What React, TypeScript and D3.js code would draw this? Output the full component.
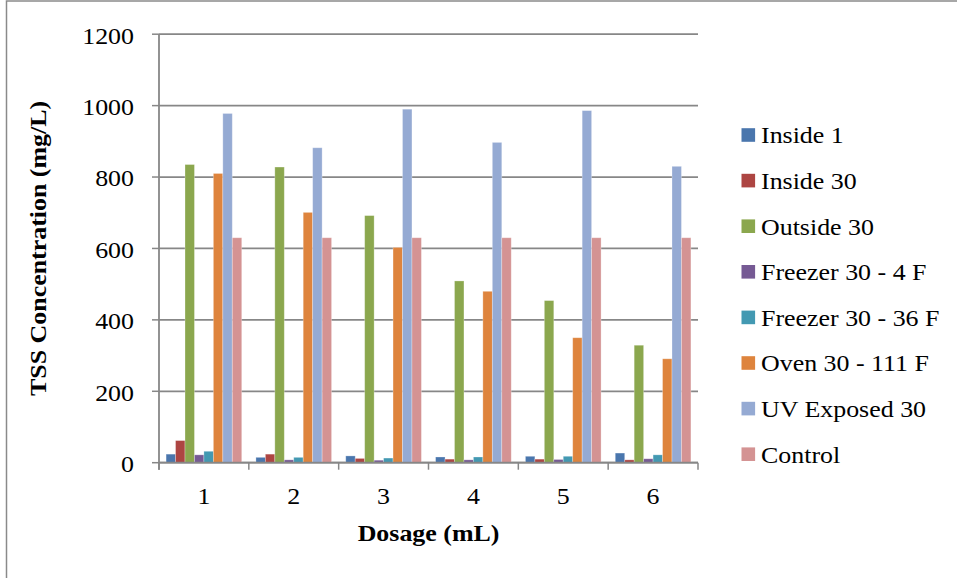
import React from "react";
import * as d3 from "d3";

const categories = ["1", "2", "3", "4", "5", "6"];
const seriesNames = [
  "Inside 1",
  "Inside 30",
  "Outside 30",
  "Freezer 30 - 4 F",
  "Freezer 30 - 36 F",
  "Oven 30 - 111 F",
  "UV Exposed 30",
  "Control",
];
const inside1 = [24, 15, 19, 16, 18, 27];
const inside30 = [62, 24, 12, 10, 10, 8];
const outside30 = [835, 828, 692, 509, 454, 329];
const freezer4 = [22, 8, 7, 8, 9, 11];
const freezer36 = [32, 15, 13, 16, 18, 22];
const oven111 = [810, 701, 603, 480, 350, 291];
const uvExposed = [978, 882, 990, 897, 986, 830];
const control = [630, 630, 630, 630, 630, 630];
const seriesValues = [inside1, inside30, outside30, freezer4, freezer36, oven111, uvExposed, control];
const yTicks = [0, 200, 400, 600, 800, 1000, 1200];
const colors = ["#4A76AD", "#AD4542", "#8BA74E", "#765A94", "#4399B2", "#DE843D", "#95AAD3", "#D49393"];

const W = 957;
const H = 578;
const plot = { left: 159, right: 698, top: 34.2, bottom: 462.7 };
const FONT = "'Liberation Serif', 'Times New Roman', serif";
const GRID = "#878787";
const FS = 24;
const SX = 1.08;

function T(props: {
  x: number;
  y: number;
  anchor?: "start" | "middle" | "end";
  bold?: boolean;
  rotate?: number;
  children: React.ReactNode;
}) {
  const rot = props.rotate ? ` rotate(${props.rotate})` : "";
  return (
    <text
      transform={`translate(${props.x}, ${props.y})${rot} scale(${SX}, 1)`}
      dy="0.35em"
      textAnchor={props.anchor || "start"}
      fontFamily={FONT}
      fontWeight={props.bold ? "bold" : "normal"}
      fontSize={FS}
      fill="#000"
    >
      {props.children}
    </text>
  );
}

export default function App() {
  const x0 = d3.scaleBand<string>().domain(categories).range([plot.left, plot.right]).padding(0);
  const x1 = d3
    .scaleBand<number>()
    .domain(d3.range(seriesNames.length))
    .range([0, x0.bandwidth()])
    .paddingInner(0)
    .paddingOuter(0.75);
  const y = d3.scaleLinear().domain([0, 1200]).range([plot.bottom, plot.top]);

  const boundaries = d3.range(categories.length + 1).map((i) => plot.left + i * x0.step());

  return (
    <div style={{ position: "absolute", left: 0, top: 0, width: W, height: H, background: "#fff" }}>
      <svg width={W} height={H} style={{ display: "block" }}>
        <rect x={0} y={0} width={W} height={H} fill="#fff" />
        <rect x={6.5} y={1} width={W + 20} height={H + 20} fill="none" stroke="#8a8a8a" strokeWidth={1.5} />
        {yTicks.map((t) => (
          <line key={"g" + t} x1={plot.left} x2={plot.right} y1={y(t)} y2={y(t)} stroke={GRID} strokeWidth={1.8} />
        ))}
        {seriesValues.map((vals, si) =>
          vals.map((v, ci) => (
            <rect
              key={si + "-" + ci}
              x={(x0(categories[ci]) as number) + (x1(si) as number)}
              y={y(v)}
              width={x1.bandwidth()}
              height={plot.bottom - y(v)}
              fill={colors[si]}
              stroke="#ffffff"
              strokeOpacity={0.35}
              strokeWidth={0.8}
            />
          ))
        )}
        <line x1={plot.left} x2={plot.left} y1={plot.top} y2={plot.bottom + 7} stroke={GRID} strokeWidth={1.8} />
        {yTicks.map((t) => (
          <g key={"yt" + t}>
            <line x1={plot.left - 7} x2={plot.left} y1={y(t)} y2={y(t)} stroke={GRID} strokeWidth={1.5} />
            <T x={134} y={y(t) + 1} anchor="end">
              {t}
            </T>
          </g>
        ))}
        <line x1={plot.left} x2={plot.right} y1={plot.bottom} y2={plot.bottom} stroke={GRID} strokeWidth={1.8} />
        {boundaries.map((bx, i) => (
          <line key={"xt" + i} x1={bx} x2={bx} y1={plot.bottom} y2={plot.bottom + 7} stroke={GRID} strokeWidth={1.5} />
        ))}
        {categories.map((c) => (
          <T key={"xl" + c} x={(x0(c) as number) + x0.bandwidth() / 2} y={496} anchor="middle">
            {c}
          </T>
        ))}
        <T x={(plot.left + plot.right) / 2} y={533} anchor="middle" bold>
          Dosage (mL)
        </T>
        <T x={38} y={(plot.top + plot.bottom) / 2} anchor="middle" bold rotate={-90}>
          TSS Concentration (mg/L)
        </T>
        {seriesNames.map((name, i) => {
          const ly = 135 + i * 45.6;
          return (
            <g key={"lg" + i}>
              <rect x={741.5} y={ly - 6.8} width={13.6} height={13.6} fill={colors[i]} />
              <T x={761} y={ly}>
                {name}
              </T>
            </g>
          );
        })}
      </svg>
    </div>
  );
}
